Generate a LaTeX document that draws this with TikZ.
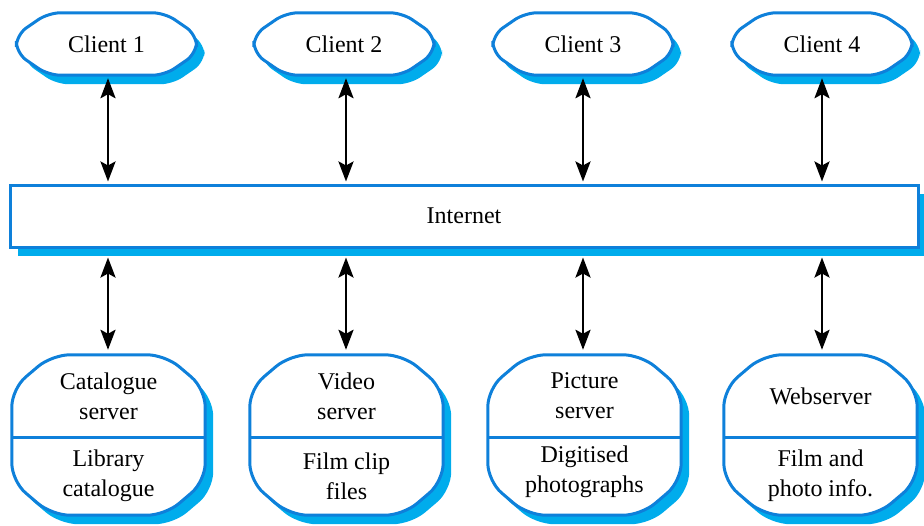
\documentclass[tikz,border=0pt]{standalone}
\usepackage{fontspec}
\setmainfont{Liberation Serif}
\usetikzlibrary{arrows.meta,shadows}

\definecolor{edgeblue}{RGB}{14,128,218}
\definecolor{shadeblue}{RGB}{0,172,236}

\tikzset{
  outline/.style={draw=edgeblue, line width=3pt, fill=white,
    drop shadow={shadow xshift=8pt, shadow yshift=-9pt, fill=shadeblue, opacity=1}},
  frame/.style={rectangle, draw=none, inner sep=0pt},
  netbox/.style={draw=edgeblue, line width=3pt, fill=white, rectangle,
    minimum width=908pt, minimum height=62pt,
    drop shadow={shadow xshift=8pt, shadow yshift=-9pt, fill=shadeblue, opacity=1}},
  label/.style={font=\fontsize{24}{30}\selectfont, align=center, inner sep=0pt},
  divider/.style={draw=edgeblue, line width=3pt},
  >={Stealth[length=20pt,width=15pt,inset=4pt]},
  link/.style={line width=2.8pt, <->}
}

\begin{document}
\begin{tikzpicture}[x=1pt, y=1pt]
\useasboundingbox (0,0) rectangle (924,-525);

% frames that fix the size of every box
\node[frame, minimum width=180pt, minimum height=62pt] (c1) at (106.5,-44) {};
\node[frame, minimum width=180pt, minimum height=62pt] (c2) at (344,-44) {};
\node[frame, minimum width=180pt, minimum height=62pt] (c3) at (583,-44) {};
\node[frame, minimum width=180pt, minimum height=62pt] (c4) at (822,-44) {};
\node[frame, minimum width=193pt, minimum height=160pt] (s1) at (108.5,-435) {};
\node[frame, minimum width=193pt, minimum height=160pt] (s2) at (346.5,-435) {};
\node[frame, minimum width=193pt, minimum height=160pt] (s3) at (584.5,-435) {};
\node[frame, minimum width=193pt, minimum height=160pt] (s4) at (820.5,-435) {};

% cut-corner outlines (name / corner width / corner height / rounding)
\foreach \n/\cx/\cy/\r in {c1/32/22/12, c2/32/22/12, c3/32/22/12, c4/32/22/12,
                           s1/40/34/18, s2/40/34/18, s3/40/34/18, s4/40/34/18}
  \path[outline, rounded corners=\r pt]
    ([xshift=\cx pt]\n.north west) -- ([xshift=-\cx pt]\n.north east)
    -- ([yshift=-\cy pt]\n.north east) -- ([yshift=\cy pt]\n.south east)
    -- ([xshift=-\cx pt]\n.south east) -- ([xshift=\cx pt]\n.south west)
    -- ([yshift=\cy pt]\n.south west) -- ([yshift=-\cy pt]\n.north west) -- cycle;

\foreach \s in {s1,s2,s3,s4}
  \draw[divider] ([yshift=-2pt]\s.west) -- ([yshift=-2pt]\s.east);

% network
\node[netbox, label] (inet) at (464,-216) {Internet};

% client captions
\node[label] (c1t) at (c1) {Client 1};
\node[label] (c2t) at (c2) {Client 2};
\node[label] (c3t) at (c3) {Client 3};
\node[label] (c4t) at (c4) {Client 4};

% server captions
\node[label] (s1a) at ([yshift=39pt]s1.center) {Catalogue\\server};
\node[label] (s1b) at ([yshift=-41pt]s1.center) {Library\\catalogue};
\node[label] (s2a) at ([yshift=39pt]s2.center) {Video\\server};
\node[label] (s2b) at ([yshift=-41pt]s2.center) {Film clip\\files};
\node[label] (s3a) at ([yshift=39pt]s3.center) {Picture\\server};
\node[label] (s3b) at ([yshift=-37pt]s3.center) {Digitised\\photographs};
\node[label] (s4a) at ([yshift=39pt]s4.center) {Webserver};
\node[label] (s4b) at ([yshift=-41pt]s4.center) {Film and\\photo info.};

% links
\draw[link, shorten <=3pt, shorten >=2pt] (c1.south -| 108,0) -- (inet.north -| 108,0);
\draw[link, shorten <=3pt, shorten >=2pt] (c2.south -| 346,0) -- (inet.north -| 346,0);
\draw[link, shorten <=3pt, shorten >=2pt] (c3.south -| 583,0) -- (inet.north -| 583,0);
\draw[link, shorten <=3pt, shorten >=2pt] (c4.south -| 822,0) -- (inet.north -| 822,0);

\draw[link, shorten <=9pt, shorten >=5pt] (inet.south -| 108,0) -- (s1.north -| 108,0);
\draw[link, shorten <=9pt, shorten >=5pt] (inet.south -| 346,0) -- (s2.north -| 346,0);
\draw[link, shorten <=9pt, shorten >=5pt] (inet.south -| 583,0) -- (s3.north -| 583,0);
\draw[link, shorten <=9pt, shorten >=5pt] (inet.south -| 822,0) -- (s4.north -| 822,0);
\end{tikzpicture}
\end{document}
